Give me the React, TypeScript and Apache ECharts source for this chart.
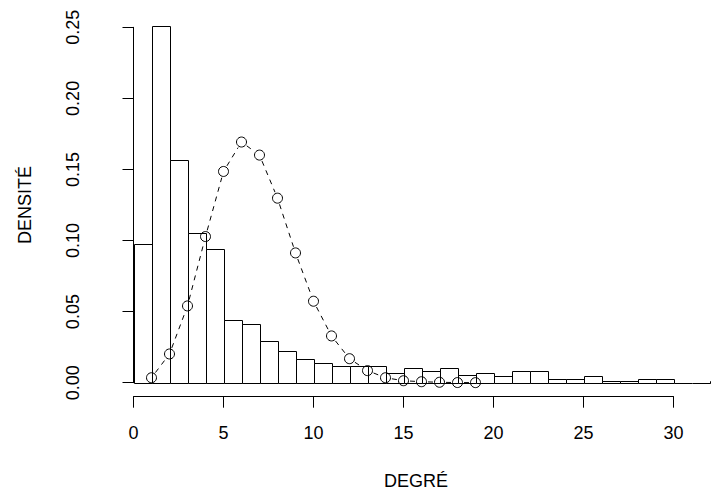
import React, { useEffect, useRef } from "react";
import * as echarts from "echarts";

// Histogram: lower edges of unit-width bins and their densities
const binLeft = [0, 1, 2, 3, 4, 5, 6, 7, 8, 9, 10, 11, 12, 13, 14, 15, 16, 17, 18, 19, 20, 21, 22, 23, 24, 25, 26, 27, 28, 29, 30, 31, 32];
const densities = [0.0975, 0.2507, 0.1568, 0.1056, 0.0939, 0.0441, 0.0411, 0.0291, 0.0223, 0.0169, 0.0136, 0.0117, 0.0117, 0.0119, 0.0066, 0.0101, 0.0085, 0.0101, 0.0052, 0.0066, 0.0047, 0.0085, 0.0085, 0.0028, 0.0028, 0.0047, 0.0014, 0.0014, 0.0028, 0.0028, 0, 0, 0.0014];

// Model curve (points joined by a dashed line)
const modelX = [1, 2, 3, 4, 5, 6, 7, 8, 9, 10, 11, 12, 13, 14, 15, 16, 17, 18, 19];
const modelY = [0.0035, 0.0202, 0.054, 0.1028, 0.1486, 0.1693, 0.1601, 0.1298, 0.0913, 0.0573, 0.0329, 0.0169, 0.0085, 0.0035, 0.0014, 0.0007, 0.0003, 0.0001, 0.00005];

// Axis ticks
const xTicks = [0, 5, 10, 15, 20, 25, 30];
const yTicks = [0, 0.05, 0.1, 0.15, 0.2, 0.25];

const FONT = "'Liberation Sans', Helvetica, Arial, sans-serif";

export default function App() {
  const ref = useRef<HTMLDivElement>(null);

  useEffect(() => {
    if (!ref.current) return;
    const chart = echarts.init(ref.current, null, { renderer: "svg" });

    const histData = binLeft.map((x, i) => [x, x + 1, densities[i]]);
    const modelData = modelX.map((x, i) => [x, modelY[i], i]);
    const R = 5;

    const option: any = {
      animation: false,
      grid: [
        { left: 133.5, top: 27.3, height: 355.4, width: 594, outerBoundsMode: "none" },
        { left: 133.5, width: 540, top: 390, height: 6.7, outerBoundsMode: "none" },
      ],
      xAxis: [
        {
          type: "value",
          gridIndex: 0,
          min: 0,
          max: 33,
          axisLine: { show: false },
          axisTick: { show: false },
          axisLabel: { show: false },
          splitLine: { show: false },
        },
        {
          type: "value",
          gridIndex: 1,
          min: xTicks[0],
          max: xTicks[xTicks.length - 1],
          interval: 5,
          position: "bottom",
          axisLine: { show: true, lineStyle: { color: "#000", width: 1 } },
          axisTick: { show: true, length: 11, lineStyle: { color: "#000", width: 1 } },
          axisLabel: { show: true, color: "#000", fontSize: 18, fontFamily: FONT, margin: 27 },
          splitLine: { show: false },
          name: "DEGRÉ",
          nameLocation: "middle",
          nameGap: 75,
          nameTextStyle: { color: "#000", fontSize: 18, fontFamily: FONT, padding: [0, 0, 0, 25] },
        },
      ],
      yAxis: [
        {
          type: "value",
          gridIndex: 0,
          min: yTicks[0],
          max: yTicks[yTicks.length - 1],
          interval: 0.05,
          offset: 24.5,
          axisLine: { show: true, lineStyle: { color: "#000", width: 1 } },
          axisTick: { show: true, length: 11, lineStyle: { color: "#000", width: 1 } },
          axisLabel: {
            show: true,
            color: "#000",
            fontSize: 18,
            fontFamily: FONT,
            rotate: 90,
            margin: 27,
            formatter: (v: number) => v.toFixed(2),
          },
          splitLine: { show: false },
          name: "DENSITÉ",
          nameLocation: "middle",
          nameRotate: 90,
          nameGap: 75,
          nameTextStyle: { color: "#000", fontSize: 18, fontFamily: FONT },
        },
        { type: "value", gridIndex: 1, show: false, min: 0, max: 1 },
      ],
      series: [
        {
          type: "custom",
          xAxisIndex: 0,
          yAxisIndex: 0,
          clip: false,
          encode: { x: [0, 1], y: 2 },
          data: histData,
          renderItem: (params: any, api: any) => {
            const x0 = api.value(0);
            const x1 = api.value(1);
            const y = api.value(2);
            const p0 = api.coord([x0, y]);
            const p1 = api.coord([x1, 0]);
            const l = Math.round(p0[0]) + 0.5;
            const r = Math.round(p1[0]) + 0.5;
            const t = Math.round(p0[1]) + 0.5;
            const b = Math.round(p1[1]) + 0.5;
            if (b - t >= 1) {
              return {
                type: "rect",
                shape: { x: l, y: t, width: r - l, height: b - t },
                style: { fill: "#fff", stroke: "#000", lineWidth: 1 },
              };
            }
            return {
              type: "rect",
              shape: { x: l, y: b - 0.5, width: r - l, height: 1 },
              style: { fill: "#000", stroke: "none" },
            };
          },
        },
        {
          type: "custom",
          xAxisIndex: 0,
          yAxisIndex: 0,
          clip: false,
          encode: { x: 0, y: 1 },
          data: modelData,
          z: 5,
          renderItem: (params: any, api: any) => {
            const i = api.value(2);
            const p = api.coord([api.value(0), api.value(1)]);
            const children: any[] = [
              {
                type: "circle",
                shape: { cx: p[0], cy: p[1], r: R },
                style: { fill: "none", stroke: "#000", lineWidth: 1 },
              },
            ];
            if (i < modelX.length - 1) {
              const q = api.coord([modelX[i + 1], modelY[i + 1]]);
              const dx = q[0] - p[0];
              const dy = q[1] - p[1];
              const len = Math.sqrt(dx * dx + dy * dy);
              const g = R + 1.5;
              if (len > 2 * g) {
                const ux = dx / len;
                const uy = dy / len;
                children.push({
                  type: "line",
                  shape: { x1: p[0] + ux * g, y1: p[1] + uy * g, x2: q[0] - ux * g, y2: q[1] - uy * g },
                  style: { stroke: "#000", lineWidth: 1, lineDash: [5, 5] },
                });
              }
            }
            return { type: "group", children };
          },
        },
      ],
    };

    chart.setOption(option);
    return () => chart.dispose();
  }, []);

  return <div ref={ref} style={{ width: 719, height: 495, margin: -8 }} />;
}
